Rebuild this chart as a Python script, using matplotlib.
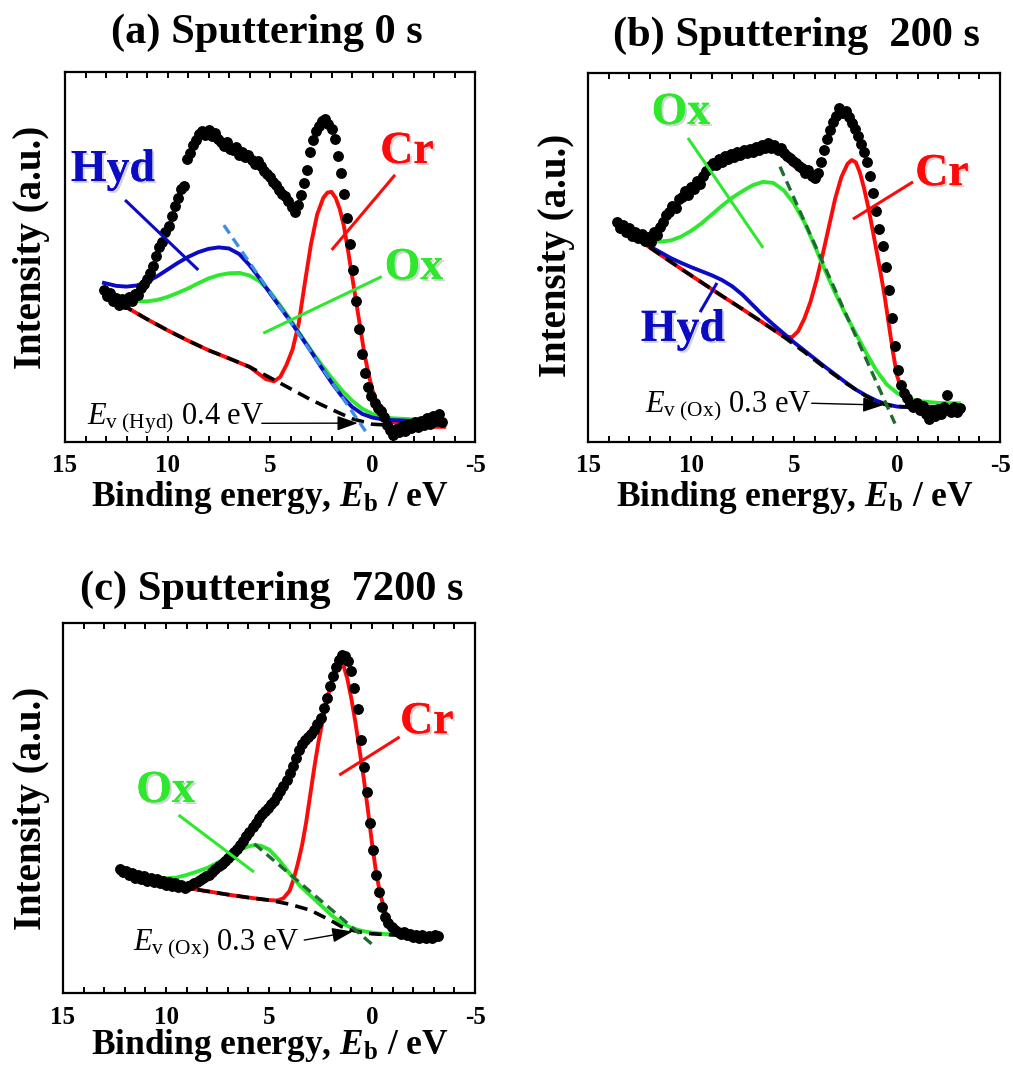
import numpy as np
import matplotlib
matplotlib.use("Agg")
import matplotlib.pyplot as plt
import matplotlib.patheffects as pe

plt.rcParams.update({
    "font.family": "Liberation Serif",
    "mathtext.fontset": "custom",
    "mathtext.rm": "Liberation Serif",
    "mathtext.it": "Liberation Serif:italic",
    "mathtext.bf": "Liberation Serif:bold",
    "mathtext.bfit": "Liberation Serif:italic:bold",
})

# ---------------------------------------------------------------- data
STEP = 0.15  # energy step of the measured spectra (eV)

# (a) Sputtering 0 s
a_E0 = 13.1
a_dots = [41.0, 39.5, 40.3, 38.2, 39.0, 37.1, 38.6, 37.4, 39.2, 38.0,
          40.1, 39.6, 41.5, 42.6, 44.0, 45.8, 47.5, 50.2, 52.6, 54.0,
          56.8, 58.5, 61.2, 63.7, 66.0, 68.4, 69.3, 76.5, 78.2, 80.4,
          81.5, 83.2, 84.1, 83.0, 84.3, 82.6, 83.4, 81.8, 81.2, 80.0,
          81.0, 79.2, 78.8, 79.6, 77.6, 78.4, 76.9, 77.5, 76.2, 75.0,
          76.0, 74.6, 73.3, 72.4, 71.7, 70.2, 69.5, 68.0, 67.1, 66.4,
          65.2, 63.5, 62.2, 64.1, 66.8, 70.0, 73.6, 78.5, 81.5, 84.0,
          85.5, 86.8, 87.2, 86.0, 84.6, 81.8, 77.4, 72.8, 67.0, 60.5,
          53.5, 46.5, 38.2, 30.5, 23.8, 18.6, 15.0, 12.4, 10.6, 9.2,
          8.4, 6.8, 4.5, 3.2, 2.0, 3.6, 2.6, 4.3, 3.0, 5.0,
          3.8, 5.4, 4.0, 5.8, 4.6, 6.4, 5.0, 7.0, 5.6, 7.6, 5.4]

a_bg_E = [13.1, 12.0, 11.0, 10.0, 9.0, 8.0, 7.0, 6.0, 5.0, 4.0, 3.0, 2.0, 1.0, 0.0, -1.0]
a_bg_I = [40.2, 36.4, 33.2, 30.2, 27.4, 24.8, 22.6, 20.3, 17.4, 14.4, 11.4, 8.8, 6.3, 4.8, 4.5]

a_cr_E = [13.1, 12.0, 11.0, 10.0, 9.0, 8.0, 7.0, 6.0, 5.2, 4.8, 4.5, 4.2, 3.9, 3.6, 3.3,
          3.0, 2.7, 2.4, 2.2, 2.0, 1.8, 1.6, 1.4, 1.2, 1.0, 0.8, 0.6, 0.4, 0.2, 0.0,
          -0.3, -0.6, -1.0, -1.5, -2.0, -3.0, -3.5]
a_cr_I = [40.2, 36.4, 33.2, 30.2, 27.4, 24.8, 22.6, 20.3, 17.0, 16.4, 17.6, 20.8, 25.0, 32.0, 43.0,
          53.5, 61.5, 66.0, 67.4, 67.6, 66.0, 63.0, 58.5, 52.0, 45.0, 38.0, 31.0, 24.0, 18.5, 14.0,
          9.0, 6.8, 5.4, 4.6, 4.3, 4.1, 4.1]

a_ox_E = [13.1, 12.5, 12.0, 11.5, 11.0, 10.5, 10.0, 9.5, 9.0, 8.5, 8.0, 7.5, 7.0, 6.5, 6.0,
          5.5, 5.0, 4.5, 4.0, 3.5, 3.0, 2.5, 2.0, 1.5, 1.0, 0.5, 0.0, -0.5, -1.0, -2.0, -3.5]
a_ox_I = [40.5, 39.3, 38.6, 38.1, 38.0, 38.4, 39.2, 40.3, 41.5, 42.9, 44.2, 45.1, 45.6, 45.7, 45.0,
          43.4, 40.6, 36.9, 33.0, 28.9, 24.8, 21.0, 17.4, 14.0, 11.2, 9.0, 7.6, 6.8, 6.4, 6.1, 5.9]

a_hyd_E = [13.1, 12.5, 12.0, 11.5, 11.0, 10.5, 10.0, 9.5, 9.0, 8.5, 8.0, 7.5, 7.0, 6.5, 6.0,
           5.5, 5.0, 4.5, 4.0, 3.5, 3.0, 2.5, 2.0, 1.5, 1.0, 0.5, 0.0, -0.5, -1.0, -2.0, -3.5]
a_hyd_I = [43.0, 42.2, 42.0, 42.3, 43.3, 44.8, 46.6, 48.4, 50.0, 51.3, 52.2, 52.6, 52.3, 50.8, 47.8,
           44.2, 40.2, 36.4, 32.6, 28.6, 24.5, 20.2, 16.1, 12.4, 9.5, 7.6, 6.6, 6.1, 5.9, 5.7, 5.5]

a_edge_E = [7.25, 0.3]
a_edge_I = [58.6, 2.6]

# (b) Sputtering 200 s
b_E0 = 13.6
b_dots = [59.5, 58.0, 58.8, 57.0, 57.9, 55.8, 56.9, 55.2, 56.4, 54.6,
          55.5, 54.2, 56.8, 56.0, 58.4, 59.6, 61.5, 62.2, 64.0, 63.4,
          65.8, 66.3, 67.9, 67.0, 69.0, 68.5, 70.6, 70.0, 72.2, 73.4,
          74.8, 75.6, 75.0, 76.6, 76.0, 77.4, 76.8, 78.0, 77.2, 78.6,
          77.8, 79.0, 78.2, 79.4, 78.6, 80.0, 79.2, 80.4, 79.6, 81.0,
          79.8, 80.6, 79.0, 79.8, 78.2, 77.6, 77.0, 76.2, 75.6, 74.8,
          74.2, 73.0, 73.6, 72.2, 71.6, 72.8, 75.8, 79.0, 82.0, 84.6,
          86.8, 88.4, 90.6, 89.2, 89.8, 88.0, 86.4, 84.8, 83.0, 80.8,
          78.6, 76.0, 72.0, 67.6, 62.6, 57.8, 53.0, 47.5, 41.2, 33.5,
          26.0, 19.6, 15.5, 13.2, 11.8, 10.4, 9.4, 10.6, 8.8, 9.8,
          7.6, 6.2, 8.4, 7.0, 8.9, 7.6, 9.4, 12.8, 8.2, 9.6, 8.0, 9.3]

b_bg_E = [13.6, 12.5, 11.5, 10.5, 9.5, 8.5, 7.5, 6.5, 5.5, 4.5, 3.5, 2.5, 1.5, 1.0, 0.5, 0.0, -0.5]
b_bg_I = [58.8, 54.6, 50.8, 47.0, 43.3, 39.6, 36.0, 32.3, 28.5, 24.4, 20.1, 16.0, 12.4, 11.0, 10.0, 9.6, 9.5]

b_cr_E = [13.6, 12.5, 11.5, 10.5, 9.5, 8.5, 7.5, 6.5, 5.5, 5.1, 4.8, 4.5, 4.2, 3.9, 3.6,
          3.3, 3.0, 2.7, 2.4, 2.2, 2.0, 1.8, 1.6, 1.4, 1.2, 1.0, 0.8, 0.6, 0.4, 0.2,
          0.0, -0.3, -0.6, -1.0, -1.5, -2.0, -3.0]
b_cr_I = [58.8, 54.6, 50.8, 47.0, 43.3, 39.6, 36.0, 32.3, 28.6, 28.4, 30.0, 33.4, 38.0, 44.0, 51.0,
          58.5, 66.0, 71.8, 75.4, 76.4, 75.8, 73.0, 68.8, 63.8, 58.0, 52.0, 46.0, 39.5, 32.0, 24.5,
          18.0, 13.0, 11.0, 10.0, 9.6, 9.5, 9.5]

b_ox_E = [13.6, 13.0, 12.5, 12.0, 11.5, 11.0, 10.5, 10.0, 9.5, 9.0, 8.5, 8.0, 7.5, 7.0, 6.5, 6.0,
          5.5, 5.0, 4.5, 4.0, 3.5, 3.0, 2.5, 2.0, 1.5, 1.0, 0.5, 0.0, -0.5, -1.0, -2.0, -3.0]
b_ox_I = [59.0, 56.8, 55.4, 54.6, 54.3, 54.6, 55.6, 57.2, 59.2, 61.6, 64.0, 66.2, 68.0, 69.6, 70.5, 70.2,
          68.2, 64.6, 59.6, 53.2, 46.6, 40.4, 34.6, 29.4, 24.2, 19.4, 15.6, 13.3, 11.9, 11.1, 10.6, 10.5]

b_hyd_E = [13.6, 12.5, 11.8, 11.0, 10.5, 10.0, 9.5, 9.0, 8.5, 8.0, 7.5, 7.0, 6.5, 6.0, 5.5,
           5.0, 4.5, 4.0, 3.5, 3.0, 2.5, 2.0, 1.5, 1.0, 0.5, 0.0, -0.5, -1.0, -2.0, -3.0]
b_hyd_I = [58.9, 54.8, 52.4, 49.9, 48.6, 47.4, 46.3, 45.2, 43.9, 42.2, 39.9, 37.1, 34.3, 31.8, 29.4,
           27.0, 24.8, 22.6, 20.4, 18.3, 16.2, 14.2, 12.6, 11.2, 10.2, 9.6, 9.5, 9.5, 9.5, 9.5]

b_edge_E = [5.68, 0.1]
b_edge_I = [74.6, 5.0]

# (c) Sputtering 7200 s
c_E0 = 12.25
c_dots = [33.4, 32.6, 33.0, 31.8, 32.4, 31.2, 32.0, 30.8, 31.6, 30.4,
          31.2, 30.0, 30.8, 29.6, 30.4, 29.2, 30.0, 29.0, 29.6, 28.6,
          29.2, 28.4, 29.0, 29.2, 29.8, 30.0, 30.6, 31.0, 31.6, 32.0,
          32.8, 33.4, 34.2, 35.0, 35.8, 36.6, 37.4, 38.0, 39.0, 40.0,
          41.2, 42.4, 43.6, 44.8, 46.0, 47.4, 48.4, 49.2, 50.0, 51.0,
          52.0, 53.2, 54.6, 56.0, 57.6, 59.4, 61.4, 63.6, 65.6, 67.2,
          68.4, 69.2, 70.0, 71.0, 72.6, 74.4, 77.0, 79.8, 83.0, 85.6,
          88.0, 90.0, 91.4, 91.0, 89.6, 87.0, 82.4, 76.8, 68.4, 61.0,
          54.4, 46.0, 38.6, 32.0, 27.4, 23.2, 20.6, 18.8, 17.8, 17.0,
          16.6, 16.0, 16.4, 15.6, 16.0, 15.2, 15.8, 15.0, 15.6, 14.8,
          15.4, 15.0, 15.6, 15.4]

c_bg_E = [12.25, 11.0, 10.0, 9.0, 8.0, 7.0, 6.0, 5.0, 4.0, 3.0, 2.0, 1.5, 1.0, 0.5, 0.0, -1.0, -3.2]
c_bg_I = [32.4, 30.8, 29.5, 28.4, 27.5, 26.6, 25.8, 25.1, 24.0, 22.4, 19.6, 18.0, 17.0, 16.4, 16.0, 15.7, 15.6]

c_cr_E = [12.25, 11.0, 10.0, 9.0, 8.0, 7.0, 6.0, 5.0, 4.6, 4.3, 4.0, 3.8, 3.6, 3.4, 3.2,
          3.0, 2.8, 2.6, 2.4, 2.2, 2.0, 1.8, 1.6, 1.4, 1.2, 1.0, 0.8, 0.6, 0.4, 0.2,
          0.0, -0.2, -0.4, -0.6, -0.8, -1.0, -1.5, -2.0, -3.2]
c_cr_I = [32.4, 30.8, 29.5, 28.4, 27.5, 26.6, 25.8, 25.1, 25.0, 25.6, 27.6, 30.8, 35.0, 39.8, 46.0,
          53.5, 61.0, 67.8, 73.4, 78.8, 83.4, 87.2, 89.3, 88.8, 85.0, 79.5, 73.0, 65.5, 58.0, 49.5,
          40.5, 32.5, 26.8, 22.6, 19.8, 18.0, 16.3, 15.8, 15.6]

c_ox_E = [12.25, 11.0, 10.0, 9.5, 9.0, 8.5, 8.0, 7.5, 7.0, 6.5, 6.0, 5.7, 5.4, 5.0, 4.5,
          4.0, 3.5, 3.0, 2.5, 2.0, 1.5, 1.0, 0.5, 0.0, -0.5, -1.0, -2.0, -3.2]
c_ox_I = [32.6, 31.4, 31.0, 31.2, 31.9, 32.8, 33.8, 35.2, 36.9, 38.5, 39.6, 40.0, 39.8, 38.8, 35.9,
          32.3, 29.0, 26.4, 23.8, 21.2, 19.0, 17.6, 16.8, 16.3, 16.0, 15.8, 15.7, 15.6]

c_edge_E = [6.3, -0.04]
c_edge_I = [43.1, 13.0]

X_TICKS = [15, 10, 5, 0, -5]
X_TICK_LABELS = ["15", "10", "5", "0", "-5"]

# ---------------------------------------------------------------- style
RED = "#ff0a0a"
GREEN = "#2ee82e"
BLUE = "#0b0bc4"
LIGHT_BLUE = "#3d8ee6"
DARK_GREEN = "#1e6b30"
SERIF = "Liberation Serif"

W, H = 1013, 1068
fig = plt.figure(figsize=(W / 100, H / 100), dpi=100)


def fpos(x, y):
    return x / W, 1 - y / H


def make_axes(left, top, right, bottom):
    return fig.add_axes([left / W, 1 - bottom / H, (right - left) / W, (bottom - top) / H])


def spectrum(E0, values):
    return E0 - STEP * np.arange(len(values)), np.asarray(values)


shadow = [pe.withSimplePatchShadow(offset=(1.5, -1.5), shadow_rgbFace="0.5", alpha=0.35), pe.Normal()]


def style_axes(ax):
    ax.set_xlim(15, -5)
    ax.set_ylim(0, 100)
    ax.set_yticks([])
    ax.set_xticks(X_TICKS)
    ax.set_xticklabels(X_TICK_LABELS, fontsize=18, fontweight="bold", family=SERIF)
    ax.set_xticks(np.arange(-5, 15.5, 1), minor=True)
    ax.tick_params(axis="x", which="both", direction="in", top=True, bottom=True,
                   length=4, width=1.4, pad=9)
    for s in ax.spines.values():
        s.set_linewidth(1.6)


def label(ax, x, y, text, color, line):
    ax.text(x, y, text, color=color, fontsize=33, fontweight="bold", family=SERIF,
            ha="center", va="center", path_effects=shadow, zorder=6)
    ax.plot(line[0], line[1], color=color, lw=2.2, solid_capstyle="butt", zorder=6)


def valence_note(ax, text_xy, sub, value, start, tip):
    ax.text(text_xy[0], text_xy[1], r"$E_{\mathrm{v\ (" + sub + r")}}$ " + value,
            fontsize=22, family=SERIF, ha="left", va="baseline", zorder=7)
    ax.annotate("", xy=tip, xytext=start, zorder=7,
                arrowprops=dict(arrowstyle="-|>,head_length=0.7,head_width=0.25",
                                color="black", lw=1.0, mutation_scale=18, shrinkA=0, shrinkB=0))


def draw_panel(ax, E0, dots, bg, cr, ox, hyd, edge, edge_color):
    E, I = spectrum(E0, dots)
    ax.plot(cr[0], cr[1], color=RED, lw=2.8, zorder=2)
    ax.plot(ox[0], ox[1], color=GREEN, lw=2.8, zorder=2.2)
    if hyd is not None:
        ax.plot(hyd[0], hyd[1], color=BLUE, lw=2.8, zorder=2.4)
    ax.plot(bg[0], bg[1], color="black", lw=2.6, dashes=(3.5, 2.0), zorder=2.6)
    ax.plot(edge[0], edge[1], color=edge_color, lw=2.4, dashes=(3.0, 1.8), zorder=2.8)
    ax.plot(E, I, "o", color="black", ms=6.8, mec="black", zorder=4)
    style_axes(ax)


# ---- (a)
ax_a = make_axes(65, 72, 475, 442)
draw_panel(ax_a, a_E0, a_dots, (a_bg_E, a_bg_I), (a_cr_E, a_cr_I), (a_ox_E, a_ox_I),
           (a_hyd_E, a_hyd_I), (a_edge_E, a_edge_I), LIGHT_BLUE)
label(ax_a, 12.66, 73.5, "Hyd", BLUE, ([12.07, 8.5], [65.4, 46.5]))
label(ax_a, -1.68, 78.4, "Cr", RED, ([-1.1, 1.99], [72.2, 51.9]))
label(ax_a, -2.02, 47.0, "Ox", GREEN, ([-0.45, 5.33], [44.7, 29.4]))
valence_note(ax_a, (13.94, 4.6), "Hyd", "0.4 eV", (5.4, 5.05), (0.72, 5.1))

# ---- (b)
ax_b = make_axes(588, 73, 1000, 442)
draw_panel(ax_b, b_E0, b_dots, (b_bg_E, b_bg_I), (b_cr_E, b_cr_I), (b_ox_E, b_ox_I),
           (b_hyd_E, b_hyd_I), (b_edge_E, b_edge_I), DARK_GREEN)
label(ax_b, 10.49, 89.2, "Ox", GREEN, ([10.15, 6.5], [82.4, 52.6]))
label(ax_b, -2.18, 72.6, "Cr", RED, ([-0.78, 2.14], [70.5, 60.4]))
label(ax_b, 10.39, 30.4, "Hyd", BLUE, ([8.74, 9.56], [43.1, 35.2]))
valence_note(ax_b, (12.23, 8.2), "Ox", "0.3 eV", (4.14, 10.5), (0.66, 10.0))

# ---- (c)
ax_c = make_axes(63, 623, 475, 993)
draw_panel(ax_c, c_E0, c_dots, (c_bg_E, c_bg_I), (c_cr_E, c_cr_I), (c_ox_E, c_ox_I),
           None, (c_edge_E, c_edge_I), DARK_GREEN)
label(ax_c, 10.02, 54.6, "Ox", GREEN, ([9.39, 5.73], [48.1, 32.7]))
label(ax_c, -2.66, 73.2, "Cr", RED, ([-1.34, 1.59], [69.2, 58.9]))
valence_note(ax_c, (11.59, 11.6), "Ox", "0.3 eV", (3.29, 14.3), (0.94, 16.6))

# ---- titles and axis labels
titles = [("(a) Sputtering 0 s", 267, 33), ("(b) Sputtering  200 s", 796, 36),
          ("(c) Sputtering  7200 s", 272, 590)]
for t, x, y in titles:
    fig.text(*fpos(x, y), t, fontsize=30.5, fontweight="bold", family=SERIF, ha="center", va="center")

xlabel = r"Binding energy, $\mathbfit{E}_{\mathbf{b}}$ / eV"
for x, y in [(270, 497), (795, 498), (270, 1046)]:
    fig.text(*fpos(x, y), xlabel, fontsize=25.5, fontweight="bold", family=SERIF, ha="center", va="center")

for x, y in [(31, 247), (556, 255), (31, 808)]:
    fig.text(*fpos(x, y), "Intensity (a.u.)", fontsize=28, fontweight="bold", family=SERIF,
             ha="center", va="center", rotation=90)

fig.savefig("out.png", dpi=100)
